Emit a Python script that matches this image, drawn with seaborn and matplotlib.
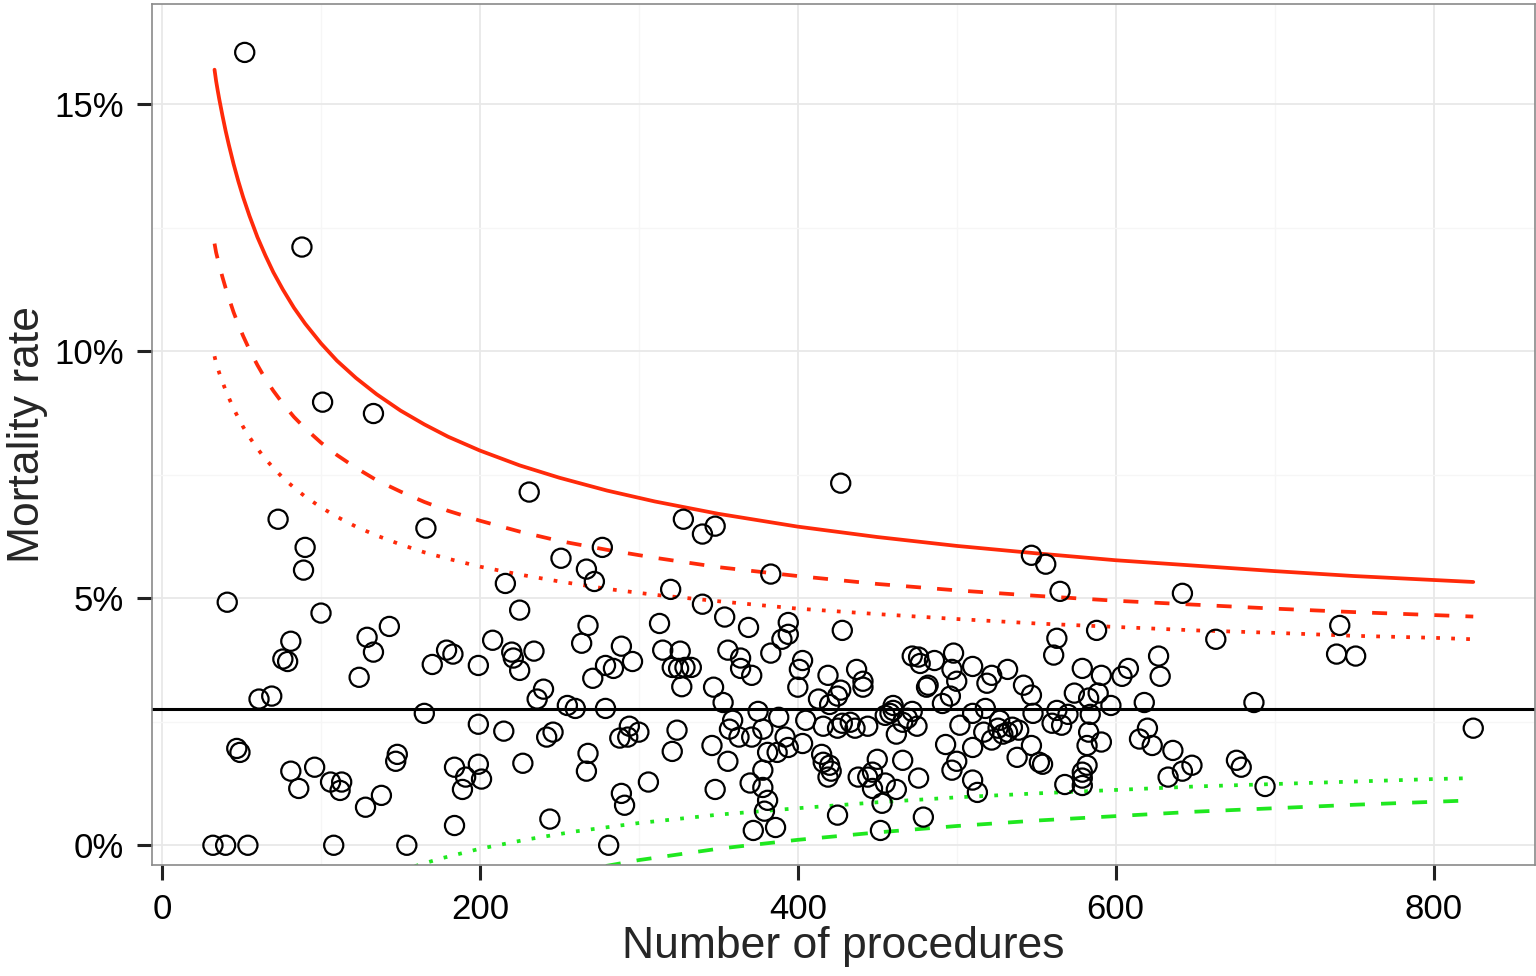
import matplotlib
matplotlib.use("Agg")
import matplotlib.pyplot as plt
import seaborn as sns
import pandas as pd
from matplotlib.ticker import FuncFormatter, MultipleLocator

# hospitals: number of procedures and observed mortality rate (%)
procedures = [
    52, 88, 101, 133, 73, 90, 89, 41, 100, 81, 76, 79, 129, 133, 143, 124, 61, 69, 47, 49,
    81, 86, 96, 106, 113, 112, 128, 138, 148, 147, 32, 40, 54, 108, 154, 165, 170, 166,
    231, 251, 267, 277, 272, 216, 320, 225, 268, 264, 313, 208, 179, 183, 199, 220, 221,
    225, 234, 289, 296, 315, 279, 284, 271, 321, 325, 327, 240, 236, 255, 260, 279, 199,
    215, 242, 246, 294, 288, 293, 300, 324, 321, 268, 267, 227, 184, 191, 189, 199, 201,
    306, 289, 291, 184, 244, 281,
    427, 328, 340, 348, 383, 340, 354, 369, 428, 394, 394, 390, 326, 356, 364, 364, 371,
    383, 403, 401, 400, 329, 333, 347, 353, 419, 437, 441, 441, 413, 427, 425, 420, 375,
    359, 357, 388, 405, 416, 378, 425, 428, 433, 436, 346, 363, 371, 392, 394, 381, 387,
    403, 356, 415, 416, 420, 421, 419, 378, 438, 444, 370, 348, 378, 381, 379, 425, 372, 386,
    547, 556, 565, 563, 561, 472, 476, 477, 486, 498, 497, 500, 510, 522, 519, 532, 542,
    547, 482, 481, 496, 491, 460, 460, 458, 455, 472, 469, 466, 475, 444, 502, 510, 518,
    527, 526, 532, 535, 539, 529, 548, 560, 563, 517, 522, 493, 510, 462, 538, 547, 552,
    554, 500, 497, 466, 450, 447, 447, 455, 462, 476, 510, 513, 453, 479, 452,
    642, 588, 663, 627, 628, 579, 591, 604, 608, 574, 583, 589, 597, 618, 570, 566, 584,
    583, 582, 591, 620, 615, 623, 636, 676, 679, 648, 642, 633, 582, 579, 579, 579, 568,
    741, 739, 751, 687, 825, 694,
]
mortality = [
    16.05, 12.11, 8.97, 8.74, 6.60, 6.03, 5.57, 4.92, 4.70, 4.13, 3.77, 3.72, 4.21, 3.91,
    4.43, 3.40, 2.96, 3.02, 1.96, 1.88, 1.50, 1.15, 1.58, 1.28, 1.28, 1.11, 0.77, 1.01,
    1.84, 1.70, 0.00, 0.00, 0.00, 0.00, 0.00, 2.67, 3.66, 6.42,
    7.15, 5.81, 5.59, 6.03, 5.34, 5.30, 5.18, 4.76, 4.45, 4.09, 4.49, 4.15, 3.95, 3.87,
    3.64, 3.91, 3.79, 3.54, 3.93, 4.03, 3.72, 3.95, 3.64, 3.58, 3.38, 3.60, 3.58, 3.21,
    3.16, 2.96, 2.83, 2.77, 2.77, 2.45, 2.31, 2.19, 2.29, 2.41, 2.17, 2.19, 2.29, 2.33,
    1.90, 1.86, 1.50, 1.66, 1.58, 1.38, 1.13, 1.64, 1.34, 1.28, 1.05, 0.81, 0.40, 0.53, 0.00,
    7.33, 6.60, 6.30, 6.46, 5.49, 4.88, 4.62, 4.41, 4.35, 4.51, 4.27, 4.17, 3.93, 3.95,
    3.79, 3.58, 3.44, 3.89, 3.74, 3.56, 3.20, 3.60, 3.60, 3.20, 2.89, 3.44, 3.56, 3.32,
    3.20, 2.96, 3.14, 3.02, 2.85, 2.71, 2.53, 2.35, 2.59, 2.53, 2.41, 2.35, 2.37, 2.47,
    2.49, 2.37, 2.02, 2.19, 2.19, 2.19, 1.98, 1.88, 1.88, 2.06, 1.70, 1.84, 1.68, 1.62,
    1.50, 1.38, 1.52, 1.38, 1.38, 1.26, 1.13, 1.17, 0.91, 0.69, 0.61, 0.30, 0.36,
    5.87, 5.69, 5.14, 4.19, 3.85, 3.83, 3.81, 3.68, 3.74, 3.89, 3.56, 3.32, 3.62, 3.44,
    3.28, 3.56, 3.24, 3.04, 3.24, 3.20, 3.02, 2.87, 2.83, 2.73, 2.67, 2.63, 2.71, 2.57,
    2.49, 2.41, 2.41, 2.43, 2.67, 2.77, 2.53, 2.37, 2.29, 2.39, 2.33, 2.25, 2.67, 2.47,
    2.73, 2.29, 2.13, 2.04, 1.98, 2.25, 1.78, 2.02, 1.68, 1.64, 1.70, 1.52, 1.72, 1.74,
    1.48, 1.15, 1.26, 1.13, 1.36, 1.32, 1.07, 0.85, 0.57, 0.30,
    5.10, 4.35, 4.17, 3.83, 3.42, 3.58, 3.44, 3.42, 3.58, 3.08, 2.98, 3.08, 2.83, 2.89,
    2.65, 2.43, 2.65, 2.29, 2.02, 2.09, 2.37, 2.15, 2.02, 1.92, 1.72, 1.58, 1.62, 1.50,
    1.38, 1.62, 1.48, 1.36, 1.21, 1.23,
    4.45, 3.87, 3.83, 2.89, 2.37, 1.19,
]

overall_rate = 2.75

# control limits
limit_n = [33, 34, 35, 36, 38, 40, 42, 45, 48, 51, 55, 60, 65, 70, 76, 83, 90, 100, 110,
           122, 135, 150, 165, 180, 200, 225, 250, 280, 310, 350, 400, 450, 500, 550, 600,
           650, 700, 750, 800, 825]
upper_solid = [15.70, 15.47, 15.28, 15.10, 14.77, 14.46, 14.18, 13.79, 13.44, 13.12,
               12.74, 12.31, 11.94, 11.60, 11.25, 10.88, 10.56, 10.16, 9.81, 9.46, 9.13,
               8.80, 8.52, 8.27, 7.99, 7.69, 7.44, 7.18, 6.96, 6.71, 6.45, 6.24, 6.06,
               5.91, 5.77, 5.66, 5.55, 5.45, 5.37, 5.33]
upper_dashed = [12.18, 12.00, 11.87, 11.74, 11.50, 11.28, 11.08, 10.79, 10.54, 10.31,
                10.03, 9.72, 9.44, 9.20, 8.94, 8.67, 8.44, 8.15, 7.90, 7.64, 7.39, 7.16,
                6.95, 6.77, 6.57, 6.35, 6.16, 5.98, 5.82, 5.63, 5.45, 5.29, 5.16, 5.05,
                4.95, 4.87, 4.79, 4.72, 4.66, 4.63]
upper_dotted = [9.90, 9.76, 9.66, 9.56, 9.38, 9.21, 9.06, 8.84, 8.65, 8.47, 8.26, 8.03,
                7.82, 7.64, 7.44, 7.24, 7.06, 6.84, 6.65, 6.45, 6.27, 6.09, 5.93, 5.80,
                5.64, 5.48, 5.34, 5.19, 5.07, 4.94, 4.79, 4.68, 4.58, 4.49, 4.42, 4.35,
                4.30, 4.24, 4.20, 4.17]
lower_n = [150, 175, 200, 230, 260, 300, 350, 400, 450, 500, 550, 600, 650, 700, 750, 800, 825]
lower_dotted = [-0.51, -0.27, -0.07, 0.12, 0.28, 0.45, 0.62, 0.75, 0.87, 0.97, 1.05,
                1.12, 1.19, 1.24, 1.29, 1.34, 1.36]
lower_dashed = [None, None, None, None, -0.53, -0.30, -0.07, 0.11, 0.26, 0.39, 0.50,
                0.59, 0.68, 0.75, 0.82, 0.88, 0.91]

df = pd.DataFrame({"n": procedures, "rate": mortality})
low = pd.DataFrame({"n": lower_n, "dotted": lower_dotted, "dashed": lower_dashed}).astype(float)

sns.set_theme(style="white")
plt.rcParams["font.family"] = ["Liberation Sans", "DejaVu Sans"]

fig, ax = plt.subplots(figsize=(15.36, 9.76), dpi=100)
fig.subplots_adjust(left=0.099, right=0.9993, top=0.9959, bottom=0.1137)

red = "#ff2a0a"
green = "#1fe81f"
lw = 2.7
dashed = (0, (4, 4.3))
dotted = (0, (1, 3))

ax.axhline(overall_rate, color="black", lw=2.2, zorder=2)

sns.lineplot(x=limit_n, y=upper_solid, color=red, lw=lw, ax=ax, sort=False)
sns.lineplot(x=limit_n, y=upper_dashed, color=red, lw=lw, ax=ax, sort=False, linestyle=dashed)
sns.lineplot(x=limit_n, y=upper_dotted, color=red, lw=lw, ax=ax, sort=False, linestyle=dotted)
sns.lineplot(data=low, x="n", y="dotted", color=green, lw=lw, ax=ax, sort=False,
             linestyle=dotted)
sns.lineplot(data=low.dropna(), x="n", y="dashed", color=green, lw=lw, ax=ax, sort=False,
             linestyle=dashed)

sns.scatterplot(data=df, x="n", y="rate", marker="o", s=190, facecolor="none",
                edgecolor="black", linewidth=1.6, ax=ax, zorder=3)

ax.set_xlim(-6.3, 863.8)
ax.set_ylim(-0.40, 17.03)
ax.xaxis.set_major_locator(MultipleLocator(200))
ax.xaxis.set_minor_locator(MultipleLocator(100))
ax.yaxis.set_major_locator(MultipleLocator(5))
ax.yaxis.set_minor_locator(MultipleLocator(2.5))
ax.yaxis.set_major_formatter(FuncFormatter(lambda v, p: f"{v:.0f}%"))

ax.grid(which="major", color="#e8e8e8", lw=1.3)
ax.grid(which="minor", color="#f6f6f6", lw=1.0)
ax.set_axisbelow(True)
for s in ax.spines.values():
    s.set_color("#8a8a8a")
    s.set_linewidth(1.2)

ax.tick_params(axis="both", which="major", length=11, width=2.2, color="#222222",
               labelsize=25, labelcolor="black", direction="out", pad=9,
               bottom=True, left=True)
ax.tick_params(which="minor", length=0)

ax.set_xlabel("Number of procedures", fontsize=32, labelpad=0)
ax.set_ylabel("Mortality rate", fontsize=32, labelpad=5)

fig.savefig("out.png", dpi=100)
